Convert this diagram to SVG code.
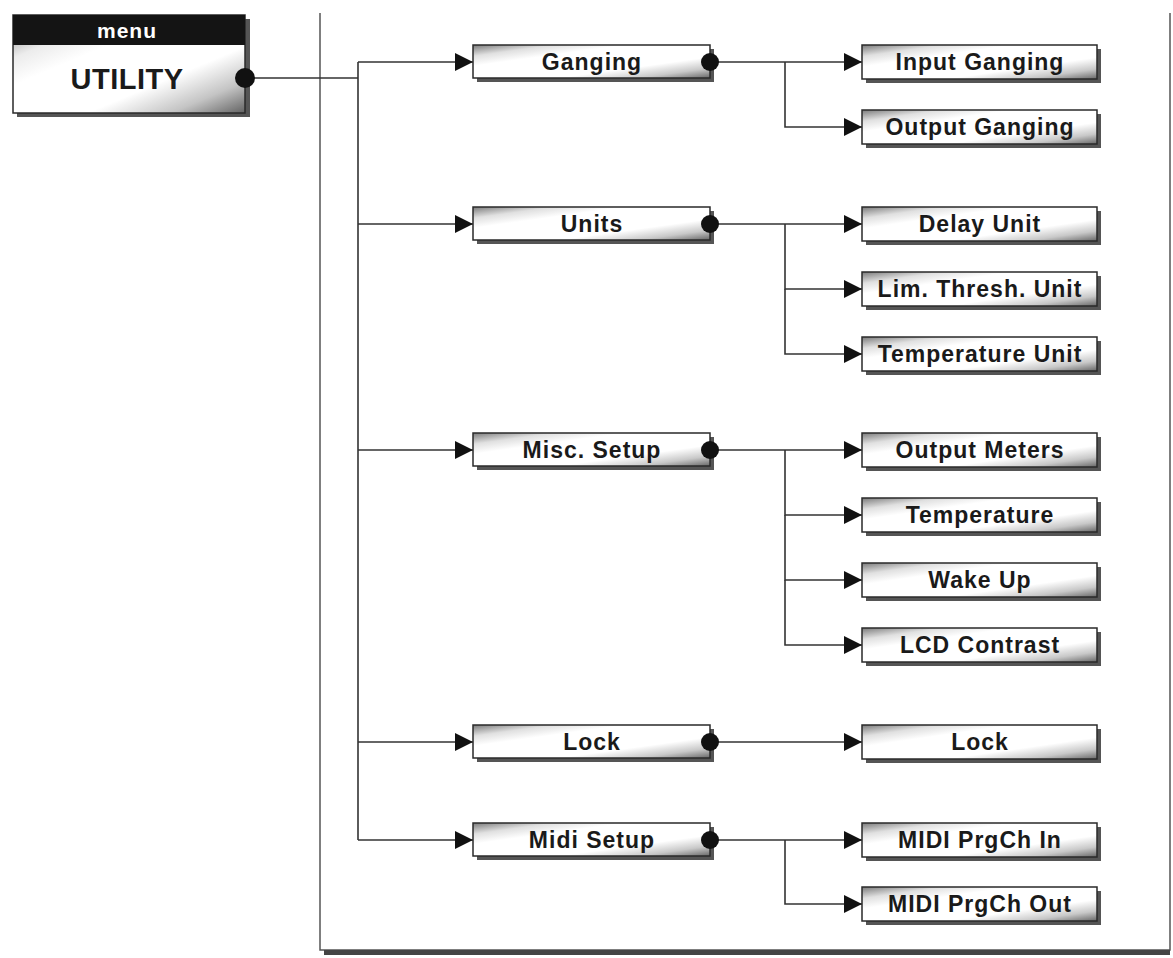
<svg xmlns="http://www.w3.org/2000/svg" width="1173" height="958" viewBox="0 0 1173 958">
<style>
.box{fill:url(#g);stroke:#2a2a2a;stroke-width:1.5}
.sh{fill:#555}
.lbl{font-family:"Liberation Sans",Arial,Helvetica,sans-serif;font-weight:bold;font-size:23px;letter-spacing:1px;fill:#1a1a1a;text-anchor:middle}
.con{fill:none;stroke:#333;stroke-width:1.6}
.arr{marker-end:url(#ah)}
.dot{fill:#111}
.frame{fill:none;stroke:#555;stroke-width:1.5}
</style>
<defs>
<linearGradient id="g" x1="0" y1="0" x2="1" y2="1">
<stop offset="0" stop-color="#7a7a7a"/>
<stop offset="0.17" stop-color="#e0e0e0"/>
<stop offset="0.32" stop-color="#ffffff"/>
<stop offset="0.68" stop-color="#ffffff"/>
<stop offset="0.85" stop-color="#c8c8c8"/>
<stop offset="1" stop-color="#666666"/>
</linearGradient>
<linearGradient id="gu" x1="0" y1="0" x2="1" y2="1">
<stop offset="0" stop-color="#7a7a7a"/>
<stop offset="0.22" stop-color="#ececec"/>
<stop offset="0.36" stop-color="#ffffff"/>
<stop offset="0.66" stop-color="#ffffff"/>
<stop offset="0.84" stop-color="#c4c4c4"/>
<stop offset="1" stop-color="#626262"/>
</linearGradient>
<marker id="ah" markerUnits="userSpaceOnUse" markerWidth="20" markerHeight="20" refX="18" refY="9" orient="auto">
<path d="M0,0 L18,9 L0,18 Z" fill="#111"/>
</marker>
</defs>

<g id="frame">
<path class="frame" d="M320,13 V950 H1170 V13"/>
<rect x="324" y="950" width="846" height="5" fill="#444"/>
</g>

<g id="connectors">
<path class="con" d="M245,78 H358"/>
<path class="con" d="M358,62 V840"/>
<path class="con arr" d="M358,62 H473"/>
<path class="con arr" d="M358,224 H473"/>
<path class="con arr" d="M358,450 H473"/>
<path class="con arr" d="M358,742 H473"/>
<path class="con arr" d="M358,840 H473"/>
<path class="con arr" d="M710,62 H862"/>
<path class="con arr" d="M785,62 V127 H862"/>
<path class="con arr" d="M710,224 H862"/>
<path class="con arr" d="M785,224 V289 H862"/>
<path class="con arr" d="M785,289 V354 H862"/>
<path class="con arr" d="M710,450 H862"/>
<path class="con arr" d="M785,450 V515 H862"/>
<path class="con arr" d="M785,515 V580 H862"/>
<path class="con arr" d="M785,580 V645 H862"/>
<path class="con arr" d="M710,742 H862"/>
<path class="con arr" d="M710,840 H862"/>
<path class="con arr" d="M785,840 V904 H862"/>
</g>

<g id="utility">
<rect class="sh" x="17" y="19" width="233" height="98"/>
<rect x="13" y="15" width="232" height="98" fill="url(#gu)" stroke="#2a2a2a" stroke-width="1.5"/>
<rect x="13" y="15" width="232" height="30" fill="#141414"/>
<text x="127" y="38" class="lbl" style="fill:#fff;font-size:21px">menu</text>
<text x="127" y="89" class="lbl" style="font-size:29px;letter-spacing:0.5px">UTILITY</text>
<circle class="dot" cx="245" cy="78" r="10"/>
</g>

<g id="ganging">
<rect class="sh" x="477" y="49" width="237" height="33"/>
<rect class="box" x="473" y="45" width="237" height="33"/>
<text class="lbl" x="592" y="70">Ganging</text>
<circle class="dot" cx="710" cy="62" r="9"/>
</g>
<g id="units">
<rect class="sh" x="477" y="211" width="237" height="33"/>
<rect class="box" x="473" y="207" width="237" height="33"/>
<text class="lbl" x="592" y="232">Units</text>
<circle class="dot" cx="710" cy="224" r="9"/>
</g>
<g id="misc-setup">
<rect class="sh" x="477" y="437" width="237" height="33"/>
<rect class="box" x="473" y="433" width="237" height="33"/>
<text class="lbl" x="592" y="458">Misc. Setup</text>
<circle class="dot" cx="710" cy="450" r="9"/>
</g>
<g id="lock-menu">
<rect class="sh" x="477" y="729" width="237" height="33"/>
<rect class="box" x="473" y="725" width="237" height="33"/>
<text class="lbl" x="592" y="750">Lock</text>
<circle class="dot" cx="710" cy="742" r="9"/>
</g>
<g id="midi-setup">
<rect class="sh" x="477" y="827" width="237" height="33"/>
<rect class="box" x="473" y="823" width="237" height="33"/>
<text class="lbl" x="592" y="848">Midi Setup</text>
<circle class="dot" cx="710" cy="840" r="9"/>
</g>

<g id="input-ganging">
<rect class="sh" x="866" y="49" width="235" height="34"/>
<rect class="box" x="862" y="45" width="235" height="34"/>
<text class="lbl" x="980" y="70">Input Ganging</text>
</g>
<g id="output-ganging">
<rect class="sh" x="866" y="114" width="235" height="34"/>
<rect class="box" x="862" y="110" width="235" height="34"/>
<text class="lbl" x="980" y="135">Output Ganging</text>
</g>
<g id="delay-unit">
<rect class="sh" x="866" y="211" width="235" height="34"/>
<rect class="box" x="862" y="207" width="235" height="34"/>
<text class="lbl" x="980" y="232">Delay Unit</text>
</g>
<g id="lim-thresh-unit">
<rect class="sh" x="866" y="276" width="235" height="34"/>
<rect class="box" x="862" y="272" width="235" height="34"/>
<text class="lbl" x="980" y="297">Lim. Thresh. Unit</text>
</g>
<g id="temperature-unit">
<rect class="sh" x="866" y="341" width="235" height="34"/>
<rect class="box" x="862" y="337" width="235" height="34"/>
<text class="lbl" x="980" y="362">Temperature Unit</text>
</g>
<g id="output-meters">
<rect class="sh" x="866" y="437" width="235" height="34"/>
<rect class="box" x="862" y="433" width="235" height="34"/>
<text class="lbl" x="980" y="458">Output Meters</text>
</g>
<g id="temperature">
<rect class="sh" x="866" y="502" width="235" height="34"/>
<rect class="box" x="862" y="498" width="235" height="34"/>
<text class="lbl" x="980" y="523">Temperature</text>
</g>
<g id="wake-up">
<rect class="sh" x="866" y="567" width="235" height="34"/>
<rect class="box" x="862" y="563" width="235" height="34"/>
<text class="lbl" x="980" y="588">Wake Up</text>
</g>
<g id="lcd-contrast">
<rect class="sh" x="866" y="632" width="235" height="34"/>
<rect class="box" x="862" y="628" width="235" height="34"/>
<text class="lbl" x="980" y="653">LCD Contrast</text>
</g>
<g id="lock">
<rect class="sh" x="866" y="729" width="235" height="34"/>
<rect class="box" x="862" y="725" width="235" height="34"/>
<text class="lbl" x="980" y="750">Lock</text>
</g>
<g id="midi-prgch-in">
<rect class="sh" x="866" y="827" width="235" height="34"/>
<rect class="box" x="862" y="823" width="235" height="34"/>
<text class="lbl" x="980" y="848">MIDI PrgCh In</text>
</g>
<g id="midi-prgch-out">
<rect class="sh" x="866" y="891" width="235" height="34"/>
<rect class="box" x="862" y="887" width="235" height="34"/>
<text class="lbl" x="980" y="912">MIDI PrgCh Out</text>
</g>
</svg>
